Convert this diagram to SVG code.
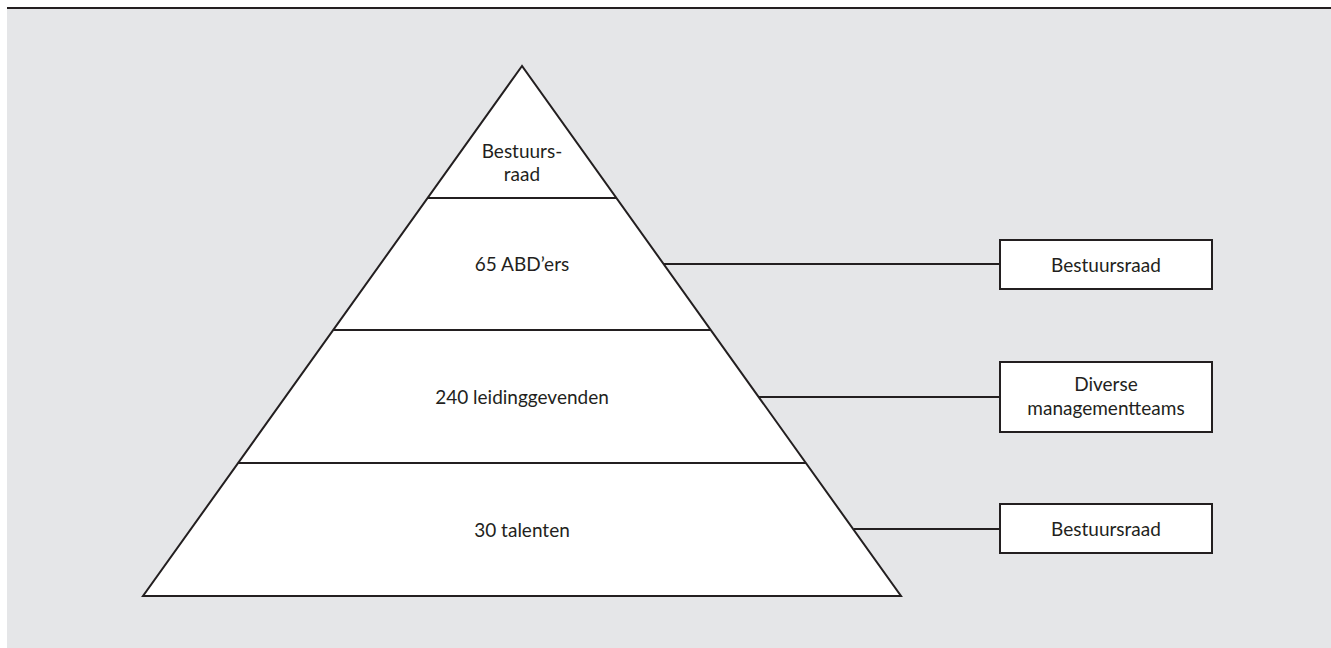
<svg xmlns="http://www.w3.org/2000/svg" width="1331" height="648" viewBox="0 0 1331 648">
<style>
  .ln{stroke:#231f20;stroke-width:2;fill:none}
  .box{fill:#fff;stroke:#231f20;stroke-width:2}
  text{font-family:Lato,"Liberation Sans",sans-serif;font-size:19px;fill:#231f20;text-anchor:middle}
</style>
<rect x="7" y="8" width="1324" height="640" fill="#e5e6e8"/>
<line x1="7" y1="8" x2="1331" y2="8" stroke="#231f20" stroke-width="2"/>
<g id="pyramid">
  <polygon points="522,66 143,596 901,596" fill="#fff" stroke="#231f20" stroke-width="2" stroke-linejoin="miter"/>
  <line class="ln" x1="427" y1="198" x2="617" y2="198"/>
  <line class="ln" x1="333" y1="330" x2="711" y2="330"/>
  <line class="ln" x1="238" y1="463" x2="806" y2="463"/>
</g>
<g id="tier-top"><text x="522" y="158">Bestuurs-</text><text x="522" y="181">raad</text></g>
<g id="tier-abd"><text x="522" y="271">65 ABD’ers</text></g>
<g id="tier-leiding"><text x="522" y="404">240 leidinggevenden</text></g>
<g id="tier-talenten"><text x="522" y="537">30 talenten</text></g>
<g id="connectors">
  <line class="ln" x1="664" y1="264" x2="1000" y2="264"/>
  <line class="ln" x1="759" y1="397" x2="1000" y2="397"/>
  <line class="ln" x1="854" y1="529" x2="1000" y2="529"/>
</g>
<g id="box-1"><rect class="box" x="1000" y="240" width="212" height="49"/><text x="1106" y="272">Bestuursraad</text></g>
<g id="box-2"><rect class="box" x="1000" y="362" width="212" height="70"/><text x="1106" y="391">Diverse</text><text x="1106" y="415">managementteams</text></g>
<g id="box-3"><rect class="box" x="1000" y="504" width="212" height="49"/><text x="1106" y="536">Bestuursraad</text></g>
</svg>
